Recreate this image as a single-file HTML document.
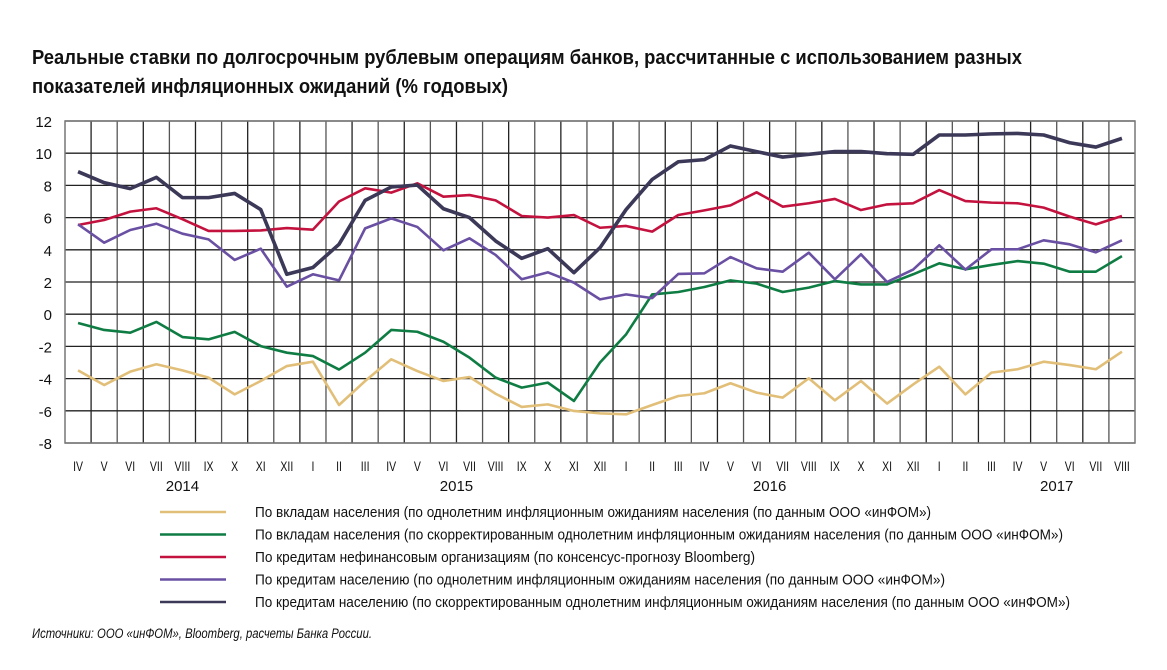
<!DOCTYPE html>
<html><head><meta charset="utf-8"><style>
html,body{margin:0;padding:0;background:#fff;}
svg{display:block;font-family:"Liberation Sans","Noto Sans CJK SC",sans-serif;}
</style></head><body>
<svg id="chart" width="1167" height="670" viewBox="0 0 1167 670" xmlns="http://www.w3.org/2000/svg">
<text x="32" y="64" font-size="20" font-weight="bold" textLength="990" lengthAdjust="spacingAndGlyphs" fill="#111">Реальные ставки по долгосрочным рублевым операциям банков, рассчитанные с использованием разных</text>
<text x="32" y="93" font-size="20" font-weight="bold" textLength="476" lengthAdjust="spacingAndGlyphs" fill="#111">показателей инфляционных ожиданий (% годовых)</text>
<g id="grid"></g>
<g id="series"></g>
<g id="axes"></g>
<g id="legend"></g>
<text x="32" y="638" font-size="13.5" font-style="italic" textLength="340" lengthAdjust="spacingAndGlyphs" fill="#111">Источники: ООО «инФОМ», Bloomberg, расчеты Банка России.</text>
</svg>
<script>
const months = ["IV","V","VI","VII","VIII","IX","X","XI","XII","I","II","III","IV","V","VI","VII","VIII","IX","X","XI","XII","I","II","III","IV","V","VI","VII","VIII","IX","X","XI","XII","I","II","III","IV","V","VI","VII","VIII"];
const years = ["2014","2015","2016","2017"];
const yearCenterIdx = [4,14.5,26.5,37.5];
const yTicks = [12,10,8,6,4,2,0,-2,-4,-6,-8];
const depositsHH = [-3.49,-4.4,-3.57,-3.11,-3.49,-3.94,-4.98,-4.15,-3.22,-2.95,-5.64,-4.15,-2.8,-3.53,-4.15,-3.9,-4.94,-5.76,-5.6,-6.01,-6.16,-6.22,-5.64,-5.08,-4.91,-4.29,-4.87,-5.18,-3.98,-5.35,-4.15,-5.55,-4.36,-3.26,-4.98,-3.63,-3.42,-2.95,-3.16,-3.42,-2.33];
const depositsAdj = [-0.55,-0.98,-1.15,-0.48,-1.42,-1.56,-1.1,-1.98,-2.39,-2.6,-3.44,-2.39,-0.98,-1.09,-1.71,-2.7,-3.94,-4.56,-4.25,-5.39,-3.0,-1.25,1.23,1.38,1.69,2.1,1.9,1.38,1.65,2.06,1.85,1.85,2.48,3.16,2.79,3.06,3.3,3.14,2.64,2.64,3.61];
const loansCorp = [5.54,5.85,6.37,6.58,5.9,5.17,5.17,5.2,5.35,5.25,7.0,7.82,7.55,8.13,7.3,7.4,7.07,6.1,6.0,6.16,5.37,5.48,5.13,6.16,6.45,6.76,7.57,6.68,6.89,7.16,6.47,6.82,6.89,7.71,7.03,6.93,6.89,6.62,6.06,5.58,6.1];
const loansHH = [5.58,4.44,5.23,5.62,5.0,4.65,3.37,4.07,1.71,2.48,2.1,5.33,5.95,5.42,3.97,4.71,3.68,2.17,2.6,1.96,0.92,1.23,1.0,2.5,2.54,3.55,2.85,2.64,3.82,2.17,3.72,2.0,2.77,4.28,2.77,4.03,4.03,4.59,4.34,3.84,4.59];
const loansAdj = [8.85,8.17,7.8,8.5,7.24,7.24,7.5,6.5,2.48,2.9,4.34,7.07,7.9,8.02,6.55,6.0,4.55,3.47,4.07,2.58,4.13,6.5,8.37,9.47,9.6,10.45,10.1,9.76,9.93,10.1,10.1,9.97,9.93,11.13,11.13,11.2,11.23,11.13,10.65,10.38,10.92];
const legendLabels = [
 "По вкладам населения (по однолетним инфляционным ожиданиям населения (по данным ООО «инФОМ»)",
 "По вкладам населения (по скорректированным однолетним инфляционным ожиданиям населения (по данным ООО «инФОМ»)",
 "По кредитам  нефинансовым организациям (по консенсус-прогнозу Bloomberg)",
 "По кредитам  населению (по однолетним инфляционным ожиданиям населения (по данным ООО «инФОМ»)",
 "По кредитам населению (по скорректированным однолетним инфляционным ожиданиям населения (по данным ООО «инФОМ»)"];
const legendWidths = [676,808,500,690,815];

const NS="http://www.w3.org/2000/svg";
const L=65,R=1135,T=121,B=443,yMax=12,yMin=-8;
const colW=(R-L)/months.length;
const x=i=>L+colW*(i+0.5);
const y=v=>T+(yMax-v)/(yMax-yMin)*(B-T);
function mk(tag,attrs,parent){const e=document.createElementNS(NS,tag);for(const k in attrs)e.setAttribute(k,attrs[k]);parent.appendChild(e);return e;}
const grid=document.getElementById('grid'),axes=document.getElementById('axes'),ser=document.getElementById('series'),leg=document.getElementById('legend');
for(let i=1;i<months.length;i++){
  const ln=mk('line',{x1:L+colW*i,x2:L+colW*i,y1:T,y2:B,stroke:(i%2? '#222':'#555'),'stroke-width':1.3},grid);
  
  
}
yTicks.forEach(v=>{
  const ln=mk('line',{x1:L,x2:R,y1:y(v),y2:y(v),stroke:'#222','stroke-width':1.3},grid);
  
  
  const t=mk('text',{x:52,y:y(v)+6,'text-anchor':'end','font-size':15,fill:'#111'},axes);
  t.textContent=v;
  
  
});
const box=mk('rect',{x:L,y:T,width:R-L,height:B-T,fill:'none',stroke:'#777','stroke-width':1.5},grid);


months.forEach((m,i)=>{
  const t=mk('text',{x:x(i),y:471,'text-anchor':'middle','font-size':14,fill:'#111',transform:`translate(${x(i)},0) scale(0.75,1) translate(${-x(i)},0)`},axes);
  t.textContent=m;
  
  
});
years.forEach((yr,j)=>{
  const t=mk('text',{x:x(yearCenterIdx[j]),y:491,'text-anchor':'middle','font-size':15,fill:'#111'},axes);
  t.textContent=yr;
  
  
});
const seriesList=[[depositsHH,'#e2bf78','series-deposits-households'],[depositsAdj,'#0f7d43','series-deposits-adjusted'],[loansCorp,'#c4123f','series-loans-corporates'],[loansHH,'#6a50a3','series-loans-households'],[loansAdj,'#3b3858','series-loans-adjusted']];
seriesList.forEach(([d,c,n])=>{
  const p=mk('polyline',{points:d.map((v,i)=>x(i)+','+y(v)).join(' '),fill:'none',stroke:c,'stroke-width':(n==='series-loans-adjusted'?3.6:2.6),'stroke-linejoin':'round'},ser);
  
  
});
legendLabels.forEach((lab,k)=>{
  const yy=512+k*22.5;
  const g=mk('g',{},leg);
  
  
  mk('line',{x1:160,x2:226,y1:yy,y2:yy,stroke:seriesList[k][1],'stroke-width':2.6},g);
  const t=mk('text',{x:255,y:yy+5,'font-size':15,fill:'#111',textLength:legendWidths[k],lengthAdjust:'spacingAndGlyphs'},g);
  t.textContent=lab;
});
</script>
</body></html>
